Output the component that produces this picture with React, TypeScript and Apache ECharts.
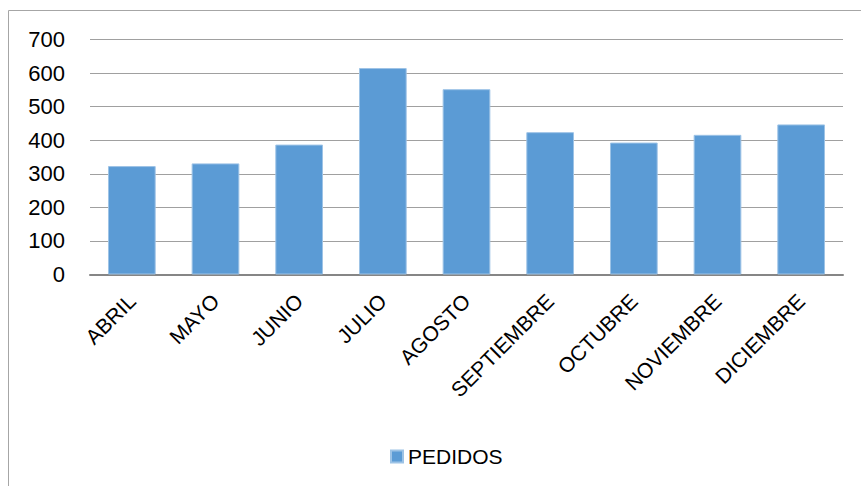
import React, { useEffect, useRef } from "react";
import * as echarts from "echarts";

const categories = ["ABRIL", "MAYO", "JUNIO", "JULIO", "AGOSTO", "SEPTIEMBRE", "OCTUBRE", "NOVIEMBRE", "DICIEMBRE"];
const pedidos = [323, 331, 387, 615, 552, 424, 393, 416, 447];
const seriesName = "PEDIDOS";
const yMin = 0;
const yMax = 700;
const yInterval = 100;

const FONT = "'Liberation Sans', Arial, sans-serif";

export default function App() {
  const ref = useRef<HTMLDivElement>(null);
  useEffect(() => {
    if (!ref.current) return;
    const chart = echarts.init(ref.current, null, { renderer: "svg" });
    chart.setOption({
      animation: false,
      backgroundColor: "#ffffff",
      textStyle: { fontFamily: FONT },
      graphic: [
        {
          type: "rect",
          shape: { x: 8.5, y: 10.5, width: 900, height: 520 },
          style: { fill: "none", stroke: "#a6a6a6", lineWidth: 1 },
          silent: true,
        },
      ],
      grid: { left: 90, right: 18, top: 39.5, bottom: 211.5, containLabel: false },
      legend: {
        data: [seriesName],
        left: 385,
        top: 441,
        itemWidth: 12,
        itemHeight: 12,
        itemGap: 10,
        icon: "rect",
        textStyle: { fontFamily: FONT, fontSize: 21, color: "#000000" },
      },
      xAxis: {
        type: "category",
        data: categories,
        axisLine: { show: true, lineStyle: { color: "#868686", width: 2 } },
        axisTick: { show: false },
        axisLabel: {
          rotate: 45,
          interval: 0,
          margin: 23,
          fontFamily: FONT,
          fontSize: 21,
          color: "#000000",
        },
      },
      yAxis: {
        type: "value",
        min: yMin,
        max: yMax,
        interval: yInterval,
        axisLine: { show: false },
        axisTick: { show: false },
        splitLine: { show: true, lineStyle: { color: "#a0a0a0", width: 1 } },
        axisLabel: {
          margin: 25,
          fontFamily: FONT,
          fontSize: 22,
          color: "#000000",
        },
      },
      series: [
        {
          name: seriesName,
          type: "bar",
          data: pedidos,
          barCategoryGap: "43%",
          itemStyle: { color: "#5B9BD5", borderColor: "#9DC3E6", borderWidth: 1 },
        },
      ],
    });
    return () => chart.dispose();
  }, []);
  return (
    <div
      ref={ref}
      style={{ position: "fixed", left: 0, top: 0, width: 861, height: 486 }}
    />
  );
}
